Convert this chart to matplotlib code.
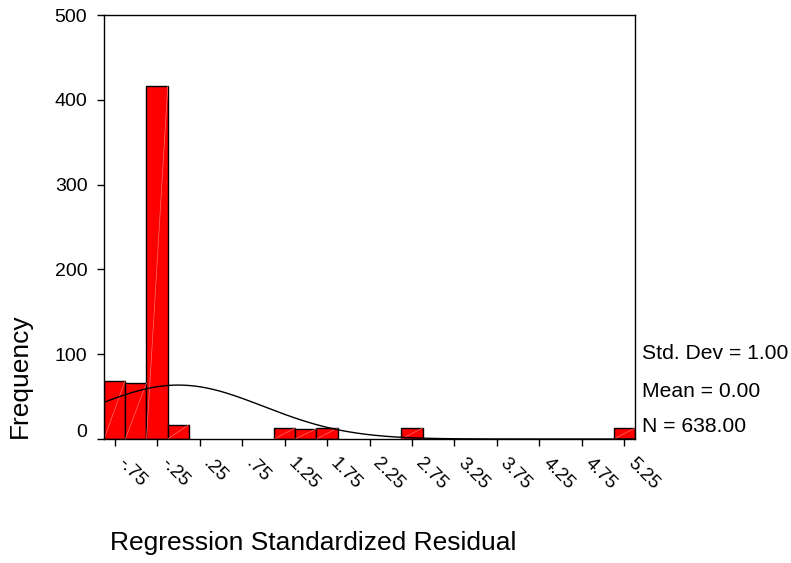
import numpy as np
import matplotlib
matplotlib.use("Agg")
import matplotlib.pyplot as plt
import matplotlib.transforms as mtransforms

plt.rcParams["font.family"] = ["Liberation Sans", "DejaVu Sans"]

# histogram bins (centre of each 0.25-wide bin) and counts
bin_centers = [-0.75, -0.5, -0.25, 0.0, 1.25, 1.5, 1.75, 2.75, 5.25]
counts = [69, 66, 416, 17, 13, 12, 13, 13, 13]
bin_width = 0.25

x_ticks = [-0.75, -0.25, 0.25, 0.75, 1.25, 1.75, 2.25, 2.75, 3.25, 3.75, 4.25, 4.75, 5.25]
x_labels = ["-.75", "-.25", ".25", ".75", "1.25", "1.75", "2.25", "2.75",
            "3.25", "3.75", "4.25", "4.75", "5.25"]
y_ticks = [0, 100, 200, 300, 400, 500]

STD_DEV, MEAN, N = 1.00, 0.00, 638.00

fig = plt.figure(figsize=(7.91, 5.63), dpi=100)
ax = fig.add_axes([0.1315, 0.2202, 0.6713, 0.7531])

bars = ax.bar(bin_centers, counts, width=bin_width, color="#ff0000",
              edgecolor="black", linewidth=1.0, zorder=2)
# faint diagonal streak SPSS leaves in each filled bar
for b in bars:
    x0, y0 = b.get_x(), b.get_y()
    ax.plot([x0, x0 + b.get_width()], [y0, y0 + b.get_height()],
            color="#ff7070", linewidth=0.5, zorder=2.5)

# normal curve from the reported stats
xs = np.linspace(-0.875, 5.375, 400)
ys = N * bin_width * np.exp(-0.5 * ((xs - MEAN) / STD_DEV) ** 2) / (STD_DEV * np.sqrt(2 * np.pi))
ax.plot(xs, ys, color="black", linewidth=1.0, zorder=3)

ax.set_xlim(-0.875, 5.375)
ax.set_ylim(0, 500)
ax.set_yticks(y_ticks)
ax.set_xticks(x_ticks)
ax.set_xticklabels(x_labels, rotation=-45, ha="left", va="top", rotation_mode="anchor")
ax.tick_params(axis="both", direction="out", length=5, width=1.0, colors="black")
ax.tick_params(axis="y", pad=7, labelsize=14)
ax.tick_params(axis="x", pad=8, labelsize=13.5)
for s in ax.spines.values():
    s.set_linewidth(1.0)

# shift rotated x labels so they start just right of their tick
for lbl in ax.get_xticklabels():
    lbl.set_transform(lbl.get_transform() +
                      mtransforms.ScaledTranslation(12 / 100, 2 / 100, fig.dpi_scale_trans))

# SPSS nudges the zero label up off the axis line
zero_lbl = ax.get_yticklabels()[0]
zero_lbl.set_transform(zero_lbl.get_transform() +
                       mtransforms.ScaledTranslation(0, 9 / 100, fig.dpi_scale_trans))

fig.text(0.025, 0.332, "Frequency", rotation=90, ha="center", va="center", fontsize=19)
fig.text(0.139, 0.036, "Regression Standardized Residual", ha="left", va="center", fontsize=19)

fig.text(0.811, 0.372, f"Std. Dev = {STD_DEV:.2f}", ha="left", va="center", fontsize=15.2)
fig.text(0.811, 0.304, f"Mean = {MEAN:.2f}", ha="left", va="center", fontsize=15.2)
fig.text(0.811, 0.243, f"N = {N:.2f}", ha="left", va="center", fontsize=15.2)

fig.savefig("out.png", dpi=100)
